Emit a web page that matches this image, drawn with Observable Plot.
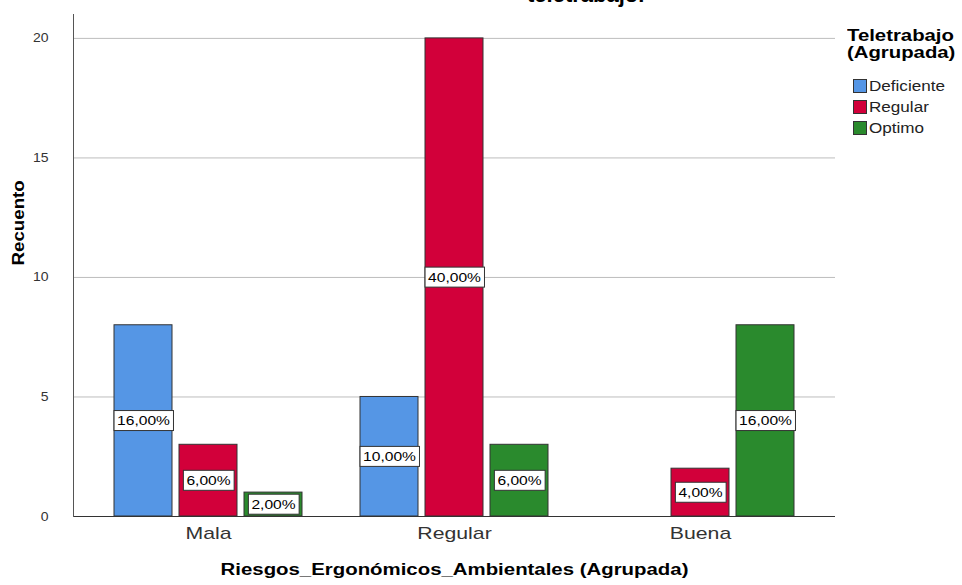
<!DOCTYPE html>
<html>
<head>
<meta charset="utf-8">
<script src="https://cdn.jsdelivr.net/npm/d3@7"></script>
<script src="https://cdn.jsdelivr.net/npm/@observablehq/plot@0.6"></script>
<style>
  html, body { margin: 0; padding: 0; background: #fff; }
  body { width: 962px; height: 585px; position: relative; overflow: hidden; font-family: "Liberation Sans", Arial, sans-serif; }
  #title { position: absolute; z-index: 5; left: 527px; top: -16px; font-size: 22px; font-weight: bold; line-height: 1; color: #000; white-space: nowrap; transform: scaleX(1.0); transform-origin: left top; }
  #legend { position: absolute; z-index: 5; left: 847px; top: 27px; color: #000; }
  #legend .lt { font-size: 16px; font-weight: bold; line-height: 17px; margin-bottom: 14px; transform: scaleX(1.27); transform-origin: left top; white-space: nowrap; }
  #legend .it { display: flex; align-items: center; font-size: 14px; height: 21px; margin-left: 6px; color: #222; white-space: nowrap; }
  #legend .it span { display: inline-block; transform: scaleX(1.22); transform-origin: left center; }
  #legend .sw { width: 14px; height: 14px; border: 1px solid #333; margin-right: 2px; box-sizing: border-box; }
  #chart { position: absolute; z-index: 1; left: 0; top: 0; }
</style>
</head>
<body>
<div id="chart"></div>
<div id="title">teletrabajo.</div>
<div id="legend"></div>
<script>
// ---- data ----
const groups = ["Mala", "Regular", "Buena"];
const series = ["Deficiente", "Regular", "Optimo"];
const deficiente = [8, 5, 0];
const regular = [3, 20, 2];
const optimo = [1, 3, 8];
const colors = ["#5596E5", "#D2003A", "#2A8A2D"];
const yTicks = [0, 5, 10, 15, 20];
const xTitle = "Riesgos_Ergonómicos_Ambientales (Agrupada)";
const yTitle = "Recuento";
const legendTitle = ["Teletrabajo", "(Agrupada)"];

const valuesBySeries = [deficiente, regular, optimo];
const total = d3.sum(valuesBySeries.flat());
const rows = [];
series.forEach((s, si) => groups.forEach((g, gi) => {
  const v = valuesBySeries[si][gi];
  rows.push({group: g, series: s, value: v,
    label: (v / total * 100).toFixed(2).replace(".", ",") + "%"});
}));

const offsets = [-65, 0, 65];
const barInset = 83;

const marks = [
  Plot.ruleY(yTicks.filter(t => t > 0), {stroke: "#bdbdbd", strokeWidth: 1}),
];
series.forEach((s, si) => {
  const data = rows.filter(r => r.series === s && r.value > 0);
  marks.push(Plot.barY(data, {
    x: "group", y: "value", fill: colors[si], stroke: "#333", strokeWidth: 1,
    dx: offsets[si], insetLeft: barInset, insetRight: barInset
  }));
});
series.forEach((s, si) => {
  const data = rows.filter(r => r.series === s && r.value > 0);
  marks.push(Plot.text(data, {
    x: "group", y: d => d.value / 2, text: "label", dx: offsets[si],
    fill: "#000", fontSize: 13
  }));
});
marks.push(Plot.ruleY([0], {stroke: "#333", strokeWidth: 1}));

const chart = Plot.plot({
  width: 962,
  height: 585,
  marginLeft: 73,
  marginRight: 127,
  marginTop: 14,
  marginBottom: 69,
  style: {fontFamily: "Liberation Sans, Arial, sans-serif", background: "#fff", overflow: "visible"},
  x: {domain: groups, padding: 0.09, label: null, tickSize: 0, tickPadding: 12},
  y: {domain: [0, 21], ticks: yTicks, label: null, tickSize: 0, tickPadding: 25},
  marks: [
    ...marks,
    Plot.axisX({tickSize: 0, tickPadding: 10, fontSize: 17, fill: "#333", label: null}),
    Plot.axisY({ticks: yTicks, tickSize: 0, tickPadding: 25, fontSize: 12.5, fill: "#333", label: null}),
    Plot.frame({anchor: "left", stroke: "#555"}),
    Plot.text([yTitle], {frameAnchor: "left", dx: -55, rotate: -90, fontSize: 16, fontWeight: "bold", fill: "#000"}),
    Plot.text([xTitle], {frameAnchor: "bottom", dy: 58, fontSize: 17, fontWeight: "bold", fill: "#000"})
  ]
});
document.getElementById("chart").appendChild(chart);

// horizontal stretch of text (the reference's text is drawn wider)
function stretch(el, sx) {
  const tr = el.getAttribute("transform") || "";
  el.setAttribute("transform", (tr + ` scale(${sx},1)`).trim());
}
const allText = d3.select(chart).selectAll("text").filter(function() { return this.childElementCount === 0; });
allText.each(function() {
  const t = this.textContent;
  const parentLabel = this.parentNode.getAttribute("aria-label") || "";
  if (parentLabel === "x-axis tick label") stretch(this, 1.25);
  else if (parentLabel === "y-axis tick label") stretch(this, 1.12);
  else if (t === xTitle) stretch(this, 1.2);
  else if (t === yTitle) stretch(this, 1.17);
});

// white boxes behind percentage labels
allText.filter(function() { return /%$/.test(this.textContent); }).each(function() {
  const el = this;
  const sx = 1.2;
  const b = el.getBBox();
  const padX = 3, h = 20;
  const cy = b.y + b.height / 2;
  const rect = document.createElementNS("http://www.w3.org/2000/svg", "rect");
  rect.setAttribute("x", b.x * sx - padX);
  rect.setAttribute("y", cy - h / 2);
  rect.setAttribute("width", b.width * sx + 2 * padX);
  rect.setAttribute("height", h);
  rect.setAttribute("fill", "#fff");
  rect.setAttribute("stroke", "#333");
  rect.setAttribute("stroke-width", 1);
  const tr = el.getAttribute("transform");
  if (tr) rect.setAttribute("transform", tr);
  el.parentNode.insertBefore(rect, el);
  stretch(el, sx);
});

// legend
const lg = d3.select("#legend");
lg.append("div").attr("class", "lt").html(legendTitle.join("<br>"));
series.forEach((s, i) => {
  const it = lg.append("div").attr("class", "it");
  it.append("div").attr("class", "sw").style("background", colors[i]);
  it.append("span").text(s);
});
</script>
</body>
</html>
